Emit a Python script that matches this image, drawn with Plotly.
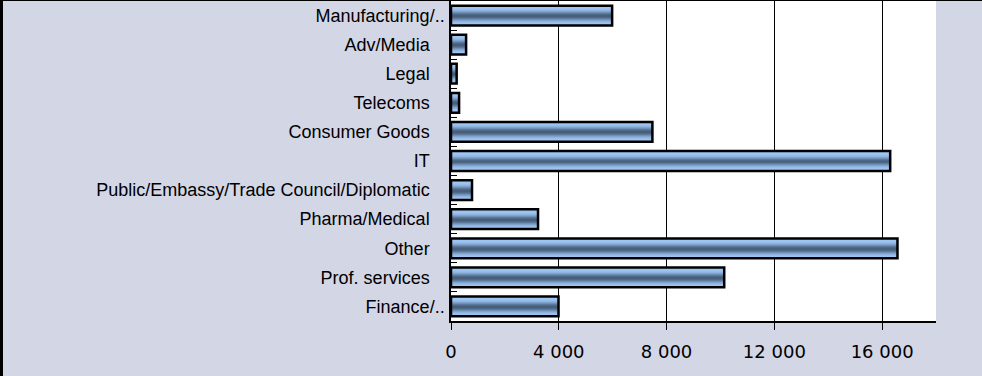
import numpy as np
import plotly.graph_objects as go

NB = "\u00a0"
categories = [
    "Finance/..",
    "Prof. services" + NB * 3,
    "Other" + NB * 3,
    "Pharma/Medical" + NB * 3,
    "Public/Embassy/Trade Council/Diplomatic" + NB * 3,
    "IT" + NB * 3,
    "Consumer Goods" + NB * 3,
    "Telecoms" + NB * 3,
    "Legal" + NB * 3,
    "Adv/Media" + NB * 3,
    "Manufacturing/..",
]
values = [3990, 10140, 16570, 3230, 780, 16300, 7475, 300, 210, 560, 5980]
x_ticks = [0, 4000, 8000, 12000, 16000]

BAR_W = 0.68
N = 20
light = np.array([158, 198, 244])
dark = np.array([70, 94, 124])

fig = go.Figure()
sw = BAR_W / N
for k in range(N):
    t = (k + 0.5) / N
    w = np.sin(np.pi * t) ** 4
    c = light * (1 - w) + dark * w
    col = "rgb(%d,%d,%d)" % tuple(c.astype(int))
    fig.add_trace(go.Bar(
        x=values, y=categories, orientation="h",
        width=sw * 1.1, offset=-BAR_W / 2 + k * sw,
        marker=dict(color=col, line=dict(width=0)),
        showlegend=False, hoverinfo="skip",
    ))
fig.add_trace(go.Bar(
    x=values, y=categories, orientation="h",
    width=BAR_W, offset=-BAR_W / 2,
    marker=dict(color="rgba(0,0,0,0)", line=dict(color="black", width=2.5)),
    showlegend=False,
))

fig.update_layout(
    width=982, height=376,
    barmode="overlay",
    margin=dict(l=451, r=46, t=1, b=55),
    paper_bgcolor="#D3D6E5",
    plot_bgcolor="white",
    separators=". ",
    font=dict(family="Liberation Sans, Arial, sans-serif", size=18, color="black"),
    xaxis=dict(
        range=[0, 18000], tickvals=x_ticks, tickformat=",d",
        showgrid=True, gridcolor="black", gridwidth=1,
        showline=True, linecolor="black", linewidth=1.5,
        ticks="outside", ticklen=7, tickcolor="black",
        zeroline=False, ticklabelstandoff=7,
        tickfont=dict(family="DejaVu Sans, Verdana, sans-serif", size=18),
    ),
    yaxis=dict(
        categoryorder="array", categoryarray=categories,
        showline=True, linecolor="black", linewidth=1.5,
        ticks="inside", tickson="boundaries", ticklen=6, tickcolor="black",
        showgrid=False, tickfont=dict(size=18),
        ticklabelstandoff=1,
    ),
    shapes=[
        dict(type="rect", xref="paper", yref="paper",
             x0=-451 / 485, x1=-448 / 485, y0=-1, y1=1.1,
             fillcolor="black", line=dict(width=0)),
        dict(type="rect", xref="paper", yref="paper",
             x0=-451 / 485, x1=531 / 485, y0=1, y1=1 + 3 / 320,
             fillcolor="black", line=dict(width=0)),
    ],
)

fig.write_html(
    "out.html",
    config={"displayModeBar": False},
    post_script="document.body.style.margin='0';document.body.style.overflow='hidden';",
)
